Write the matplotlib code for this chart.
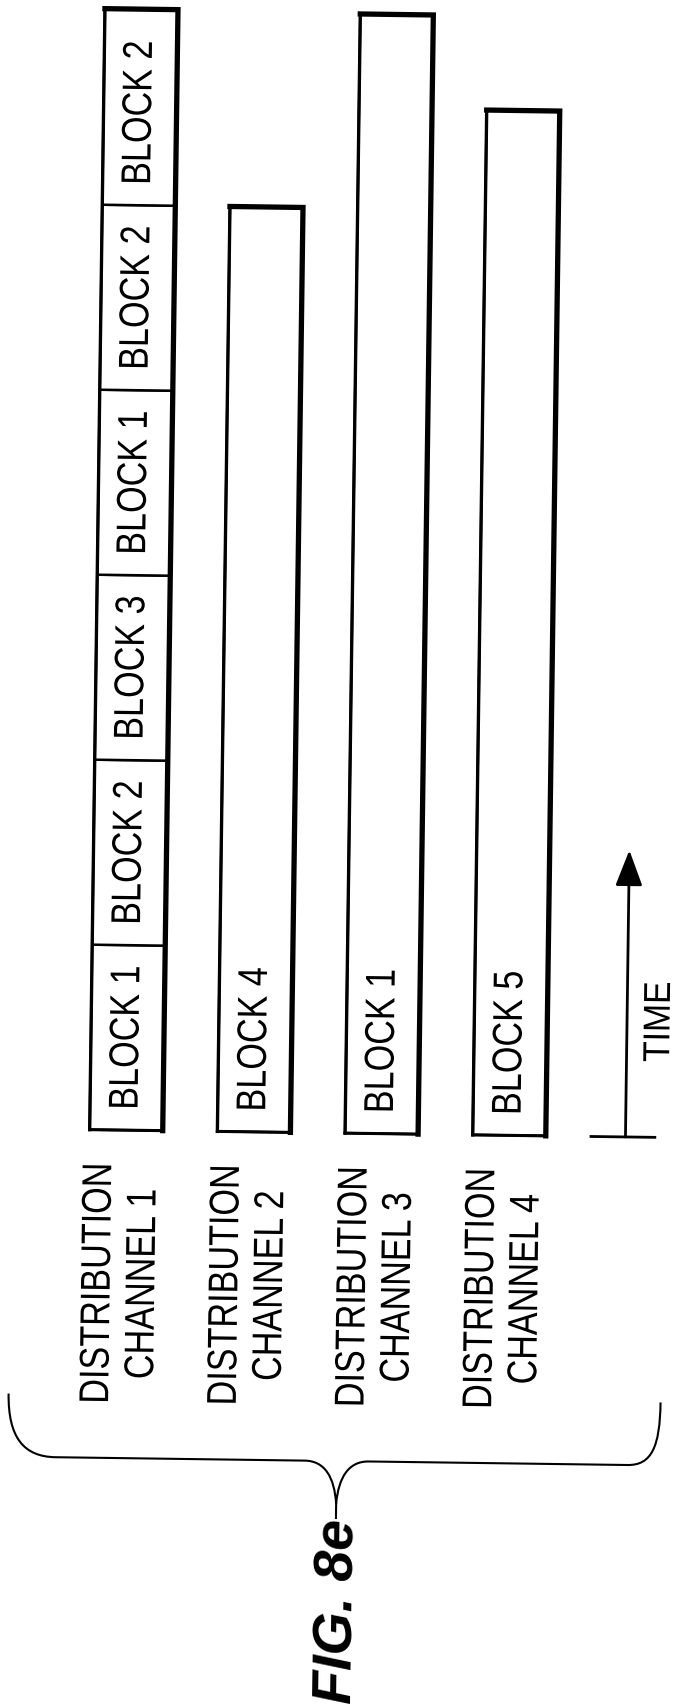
import matplotlib
matplotlib.use("Agg")
import matplotlib.pyplot as plt
from matplotlib.patches import Rectangle, PathPatch
from matplotlib.path import Path
from matplotlib.patheffects import AbstractPathEffect
from matplotlib.transforms import Affine2D

# channel data: block labels and their durations (in block-time units)
channel_names = ["DISTRIBUTION\nCHANNEL 1", "DISTRIBUTION\nCHANNEL 2",
                 "DISTRIBUTION\nCHANNEL 3", "DISTRIBUTION\nCHANNEL 4"]
channel_blocks = [["BLOCK 1", "BLOCK 2", "BLOCK 3", "BLOCK 1", "BLOCK 2", "BLOCK 2"],
                  ["BLOCK 4"],
                  ["BLOCK 1"],
                  ["BLOCK 5"]]
channel_durations = [[1, 1, 1, 1, 1, 1.06],
                     [5.0],
                     [6.05],
                     [5.54]]
time_label = "TIME"
fig_label = "FIG. 8e"

W, H = 675, 1705
TILT = 0.78            # the scanned page is turned slightly clockwise
X0, SLOT = 130, 127.7  # pixel x of channel 1 centre, pixels between channels
T0, UNIT = 1133, 185.0  # pixel y of time zero, pixels per block
BAR_W = 0.572

FONT = ["Liberation Sans", "DejaVu Sans"]
FS = 30
SQUEEZE = 0.82         # the lettering of the drawing is a narrow grotesque
ANGLE = 90 - TILT


class Squeeze(AbstractPathEffect):
    """Narrow the glyphs along the reading direction around an anchor."""

    def __init__(self, anchor, angle, sx):
        super().__init__()
        self._extra = (Affine2D().translate(-anchor[0], -anchor[1])
                       .rotate_deg(-angle).scale(sx, 1).rotate_deg(angle)
                       .translate(anchor[0], anchor[1]))

    def draw_path(self, renderer, gc, tpath, affine, rgbFace=None):
        renderer.draw_path(gc, tpath, affine + self._extra, rgbFace)


fig = plt.figure(figsize=(W / 100, H / 100), dpi=100)
ax = fig.add_axes([0, 0, 1, 1])
ax.set_xlim(-X0 / SLOT, (W - X0) / SLOT)
ax.set_ylim((T0 - H) / UNIT, T0 / UNIT)
ax.axis("off")

rot = Affine2D().rotate_deg_around(W / 2, H / 2, -TILT)
data_tr = ax.transData + rot
# pixel coordinates, y measured down from the top edge
px_tr = Affine2D().scale(1, -1).translate(0, H) + rot


def narrow_text(x, y, s, tr, size=FS, sx=SQUEEZE, **kw):
    t = ax.text(x, y, s, rotation=ANGLE, fontsize=size, family=FONT,
                transform=tr, **kw)
    t.set_path_effects([Squeeze(tr.transform((x, y)), ANGLE, sx)])
    return t


for i, (blocks, durs) in enumerate(zip(channel_blocks, channel_durations)):
    left = i - BAR_W / 2
    start = 0
    for name, d in zip(blocks, durs):
        ax.add_patch(Rectangle((left, start), BAR_W, d, facecolor="white",
                               edgecolor="black", lw=1.8, transform=data_tr))
        mid = start + min(d, 1) / 2
        narrow_text(i, mid, name, data_tr, ha="center", va="center")
        start += d
    total = sum(durs)
    # heavier top and right edges
    ax.plot([left, left + BAR_W, left + BAR_W], [total, total, 0],
            color="black", lw=3.8, solid_joinstyle="miter", transform=data_tr)
    ax.plot([left, left], [0, total], color="black", lw=2.4, transform=data_tr)
    ax.plot([left, left + BAR_W], [0, 0], color="black", lw=2.2, transform=data_tr)
    narrow_text(i - 0.04, -0.178, channel_names[i], data_tr, ha="center",
                va="top", multialignment="center", linespacing=1.15)

# time arrow
arrow_x = 3.91
ax.plot([3.64, 4.14], [0, 0], color="black", lw=2.0, transform=data_tr)
ax.annotate("", xy=(arrow_x, 1.55), xytext=(arrow_x, 0), xycoords=data_tr,
            textcoords=data_tr,
            arrowprops=dict(arrowstyle="-|>,head_length=1.0,head_width=0.38",
                            mutation_scale=22, lw=2.0, color="black",
                            shrinkA=0, shrinkB=0))
narrow_text(4.16, 0.845, time_label, data_tr, size=27, sx=0.9,
            ha="center", va="top")

# brace under the channel labels
cx, hy = 345, 1461
verts = [(16, 1398), (16, 1442), (32, hy), (64, hy),
         (cx - 32, hy),
         (cx - 12, hy), (cx - 2, hy + 16), (cx, hy + 43),
         (cx, hy + 58),
         (cx, hy + 43),
         (cx + 2, hy + 16), (cx + 12, hy), (cx + 32, hy),
         (636, hy),
         (660, hy), (668, 1442), (668, 1398)]
codes = [Path.MOVETO, Path.CURVE4, Path.CURVE4, Path.CURVE4,
         Path.LINETO,
         Path.CURVE4, Path.CURVE4, Path.CURVE4,
         Path.LINETO,
         Path.MOVETO,
         Path.CURVE4, Path.CURVE4, Path.CURVE4,
         Path.LINETO,
         Path.CURVE4, Path.CURVE4, Path.CURVE4]
ax.add_patch(PathPatch(Path(verts, codes), facecolor="none", edgecolor="black",
                       lw=1.5, transform=px_tr))

ax.text(cx + 5, 1704, fig_label, rotation=ANGLE, ha="center", va="bottom",
        fontsize=40, fontweight="bold", fontstyle="italic", family=FONT,
        transform=px_tr)

fig.savefig("out.png", dpi=100, facecolor="white")
